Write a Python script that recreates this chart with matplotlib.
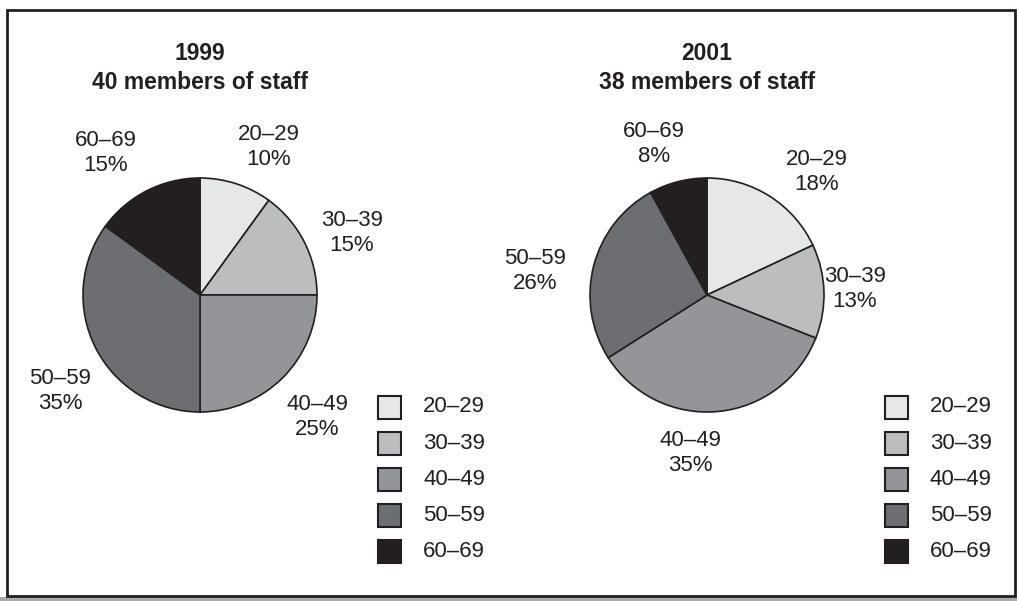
import matplotlib
matplotlib.use("Agg")
import matplotlib.pyplot as plt
from matplotlib.patches import Rectangle

plt.rcParams["font.family"] = ["Liberation Sans", "DejaVu Sans"]

W, H = 1017, 601

groups = ["20–29", "30–39", "40–49", "50–59", "60–69"]
colors = ["#e6e7e8", "#bbbdbf", "#939598", "#6d6e71", "#231f20"]

titles = ["1999\n40 members of staff", "2001\n38 members of staff"]
share_1999 = [10, 15, 25, 35, 15]
share_2001 = [18, 13, 35, 26, 8]

# label positions (pixel coords, top-left origin), per slice
label_pos_1999 = [(269, 147), (352, 233), (317, 417), (60, 391), (106, 153)]
label_pos_2001 = [(817, 172), (855, 289), (690, 453), (535, 271), (654, 144)]

fig = plt.figure(figsize=(W / 100, H / 100), dpi=100)
ax = fig.add_axes([0, 0, 1, 1])


def Y(py):
    return H - py


def draw(cx, values, title, label_pos, leg_x):
    cy = 295
    ax.pie(values, colors=colors, startangle=90, counterclock=False,
           center=(cx, Y(cy)), radius=117, frame=True,
           wedgeprops=dict(edgecolor="#231f20", linewidth=1.2))
    ax.text(cx, Y(68), title, ha="center", va="center", fontsize=16.5,
            fontweight="bold", linespacing=1.3, color="#231f20")
    for g, v, (px, py) in zip(groups, values, label_pos):
        ax.text(px, Y(py), f"{g}\n{v}%", ha="center", va="center",
                fontsize=16, linespacing=1.2, color="#231f20")
    for i, (g, c) in enumerate(zip(groups, colors)):
        ry = 407 + i * 36.2
        ax.add_patch(Rectangle((leg_x, Y(ry) - 11.5), 23, 23, facecolor=c,
                               edgecolor="#231f20", linewidth=1.5))
        ax.text(leg_x + 45, Y(ry), g, ha="left", va="center", fontsize=16,
                color="#231f20")


draw(200, share_1999, titles[0], label_pos_1999, 378)
draw(707, share_2001, titles[1], label_pos_2001, 885)

# outer frame with a grey shadow strip underneath
ax.add_patch(Rectangle((0, 0), W, Y(597), facecolor="#a7a9ac", edgecolor="none", zorder=0))
ax.add_patch(Rectangle((7, Y(596)), 1008, 586, facecolor="none",
                       edgecolor="#231f20", linewidth=2))

ax.set_xlim(0, W)
ax.set_ylim(0, H)
ax.set_aspect("equal")
ax.axis("off")

fig.savefig("out.png", dpi=100)
